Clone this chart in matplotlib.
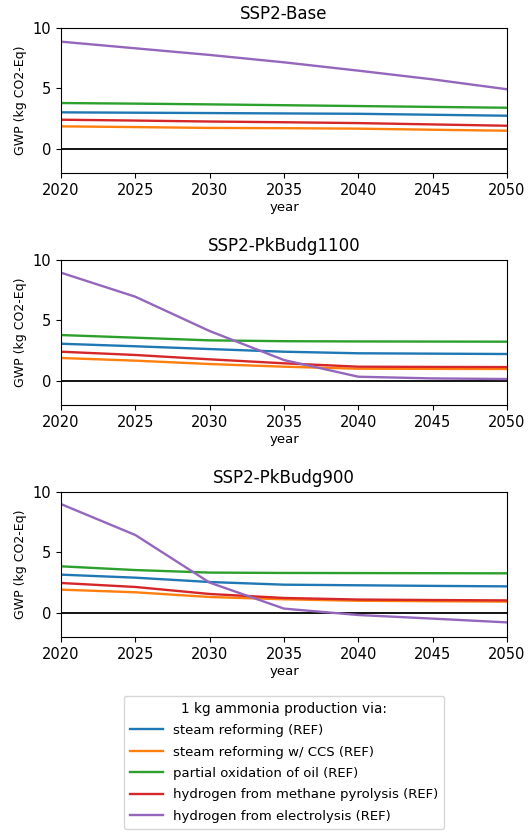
import matplotlib
matplotlib.use("Agg")
import matplotlib.pyplot as plt

years = [2020, 2025, 2030, 2035, 2040, 2045, 2050]

scenarios = ["SSP2-Base", "SSP2-PkBudg1100", "SSP2-PkBudg900"]

routes = [
    "steam reforming (REF)",
    "steam reforming w/ CCS (REF)",
    "partial oxidation of oil (REF)",
    "hydrogen from methane pyrolysis (REF)",
    "hydrogen from electrolysis (REF)",
]

# GWP per kg ammonia (kg CO2-Eq), one list per route, per scenario
base_smr = [3.02, 2.99, 2.96, 2.93, 2.90, 2.82, 2.74]
base_smr_ccs = [1.86, 1.80, 1.73, 1.71, 1.67, 1.58, 1.50]
base_pox = [3.79, 3.74, 3.68, 3.61, 3.54, 3.47, 3.40]
base_pyro = [2.41, 2.34, 2.26, 2.20, 2.13, 2.02, 1.91]
base_elec = [8.87, 8.32, 7.77, 7.16, 6.47, 5.75, 4.93]

b1100_smr = [3.07, 2.86, 2.63, 2.41, 2.28, 2.25, 2.22]
b1100_smr_ccs = [1.89, 1.67, 1.39, 1.17, 1.00, 0.99, 0.98]
b1100_pox = [3.79, 3.57, 3.35, 3.28, 3.26, 3.25, 3.24]
b1100_pyro = [2.41, 2.14, 1.78, 1.45, 1.17, 1.15, 1.14]
b1100_elec = [8.95, 6.96, 4.12, 1.72, 0.34, 0.20, 0.15]

b900_smr = [3.16, 2.91, 2.55, 2.33, 2.28, 2.23, 2.19]
b900_smr_ccs = [1.92, 1.70, 1.31, 1.12, 1.00, 0.96, 0.93]
b900_pox = [3.85, 3.54, 3.33, 3.30, 3.29, 3.28, 3.27]
b900_pyro = [2.47, 2.14, 1.56, 1.23, 1.10, 1.06, 1.03]
b900_elec = [9.00, 6.44, 2.50, 0.35, -0.18, -0.48, -0.79]

series = {
    "SSP2-Base": [base_smr, base_smr_ccs, base_pox, base_pyro, base_elec],
    "SSP2-PkBudg1100": [b1100_smr, b1100_smr_ccs, b1100_pox, b1100_pyro, b1100_elec],
    "SSP2-PkBudg900": [b900_smr, b900_smr_ccs, b900_pox, b900_pyro, b900_elec],
}

colors = ["#1f77b4", "#ff7f0e", "#2ca02c", "#d62728", "#9467bd"]

plt.rcParams["font.family"] = ["DejaVu Sans"]

fig = plt.figure(figsize=(5.28, 8.34), dpi=100)
left, width, height = 61 / 528, 446 / 528, 145 / 834
bottoms = [1 - 173 / 834, 1 - 405 / 834, 1 - 637 / 834]

axes = []
for scen, b in zip(scenarios, bottoms):
    ax = fig.add_axes([left, b, width, height])
    ax.axhline(0, color="black", lw=1.3, zorder=1)
    for vals, c, name in zip(series[scen], colors, routes):
        ax.plot(years, vals, color=c, lw=1.7, label=name, zorder=2)
    ax.set_xlim(2020, 2050)
    ax.set_ylim(-2, 10)
    ax.set_xticks([2020, 2025, 2030, 2035, 2040, 2045, 2050])
    ax.set_yticks([0, 5, 10])
    ax.tick_params(labelsize=10.5)
    ax.set_title(scen, fontsize=12, pad=6.5)
    ax.set_xlabel("year", fontsize=9.5, labelpad=2)
    ax.set_ylabel("GWP (kg CO2-Eq)", fontsize=9, labelpad=4)
    axes.append(ax)

handles, labels = axes[-1].get_legend_handles_labels()
axes[-1].legend(
    handles, labels,
    title="1 kg ammonia production via:",
    loc="upper center",
    bbox_to_anchor=(0.5, -0.405),
    borderaxespad=0,
    borderpad=0.45,
    fontsize=9.5,
    title_fontsize=9.8,
    labelspacing=0.64,
    handlelength=2.5,
    frameon=True,
    edgecolor="#cccccc",
)

fig.savefig("out.png", dpi=100)
